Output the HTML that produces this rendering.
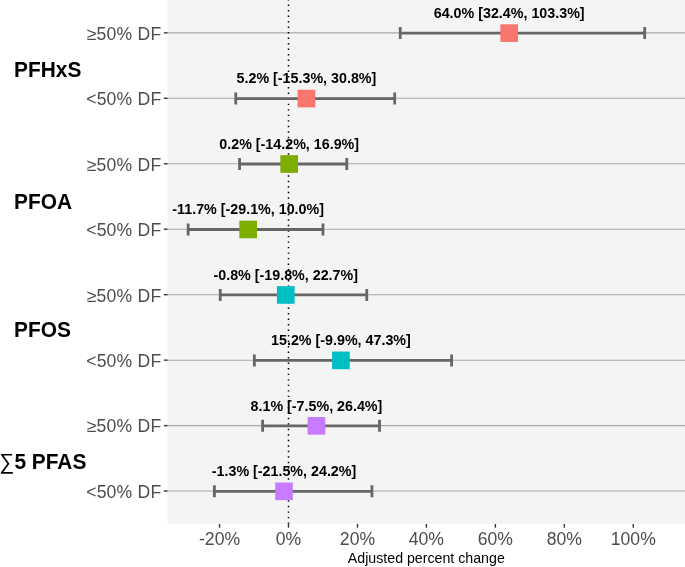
<!DOCTYPE html>
<html><head><meta charset="utf-8"><style>
html,body{margin:0;padding:0;background:#fff;width:685px;height:567px;overflow:hidden}
svg{display:block;will-change:transform;font-family:"Liberation Sans",sans-serif}
</style></head><body>
<svg width="685" height="567" viewBox="0 0 685 567">
<rect x="167.6" y="0" width="517.4" height="524.0" fill="#F4F4F4"/>
<line x1="167.6" y1="32.85" x2="685" y2="32.85" stroke="#A8A8A8" stroke-width="1.05"/>
<line x1="167.6" y1="98.31" x2="685" y2="98.31" stroke="#A8A8A8" stroke-width="1.05"/>
<line x1="167.6" y1="163.77" x2="685" y2="163.77" stroke="#A8A8A8" stroke-width="1.05"/>
<line x1="167.6" y1="229.23" x2="685" y2="229.23" stroke="#A8A8A8" stroke-width="1.05"/>
<line x1="167.6" y1="294.69" x2="685" y2="294.69" stroke="#A8A8A8" stroke-width="1.05"/>
<line x1="167.6" y1="360.15" x2="685" y2="360.15" stroke="#A8A8A8" stroke-width="1.05"/>
<line x1="167.6" y1="425.61" x2="685" y2="425.61" stroke="#A8A8A8" stroke-width="1.05"/>
<line x1="167.6" y1="491.07" x2="685" y2="491.07" stroke="#A8A8A8" stroke-width="1.05"/>
<line x1="288.50" y1="524.0" x2="288.50" y2="0" stroke="#000" stroke-width="1.5" stroke-dasharray="1.45 4.06" stroke-dashoffset="-0.15"/>
<path d="M400.22,33.10H644.68M400.22,27.10V39.10M644.68,27.10V39.10" stroke="#666666" stroke-width="2.8" fill="none"/>
<path d="M235.75,98.56H394.70M235.75,92.56V104.56M394.70,92.56V104.56" stroke="#666666" stroke-width="2.8" fill="none"/>
<path d="M239.54,164.02H346.77M239.54,158.02V170.02M346.77,158.02V170.02" stroke="#666666" stroke-width="2.8" fill="none"/>
<path d="M188.16,229.48H322.98M188.16,223.48V235.48M322.98,223.48V235.48" stroke="#666666" stroke-width="2.8" fill="none"/>
<path d="M220.23,294.94H366.77M220.23,288.94V300.94M366.77,288.94V300.94" stroke="#666666" stroke-width="2.8" fill="none"/>
<path d="M254.36,360.40H451.59M254.36,354.40V366.40M451.59,354.40V366.40" stroke="#666666" stroke-width="2.8" fill="none"/>
<path d="M262.64,425.86H379.53M262.64,419.86V431.86M379.53,419.86V431.86" stroke="#666666" stroke-width="2.8" fill="none"/>
<path d="M214.37,491.32H371.94M214.37,485.32V497.32M371.94,485.32V497.32" stroke="#666666" stroke-width="2.8" fill="none"/>
<rect x="500.35" y="24.28" width="17.65" height="17.65" fill="#F8766D"/>
<rect x="297.60" y="89.73" width="17.65" height="17.65" fill="#F8766D"/>
<rect x="280.36" y="155.19" width="17.65" height="17.65" fill="#7CAE00"/>
<rect x="239.33" y="220.66" width="17.65" height="17.65" fill="#7CAE00"/>
<rect x="276.92" y="286.12" width="17.65" height="17.65" fill="#00BFC4"/>
<rect x="332.08" y="351.57" width="17.65" height="17.65" fill="#00BFC4"/>
<rect x="307.60" y="417.04" width="17.65" height="17.65" fill="#C77CFF"/>
<rect x="275.19" y="482.50" width="17.65" height="17.65" fill="#C77CFF"/>
<text transform="translate(509.17,17.90) scale(1,1.03)" text-anchor="middle" font-weight="bold" font-size="14.3">64.0% [32.4%, 103.3%]</text>
<text transform="translate(306.43,83.36) scale(1,1.03)" text-anchor="middle" font-weight="bold" font-size="14.3">5.2% [-15.3%, 30.8%]</text>
<text transform="translate(289.19,148.82) scale(1,1.03)" text-anchor="middle" font-weight="bold" font-size="14.3">0.2% [-14.2%, 16.9%]</text>
<text transform="translate(248.16,214.28) scale(1,1.03)" text-anchor="middle" font-weight="bold" font-size="14.3">-11.7% [-29.1%, 10.0%]</text>
<text transform="translate(285.74,279.74) scale(1,1.03)" text-anchor="middle" font-weight="bold" font-size="14.3">-0.8% [-19.8%, 22.7%]</text>
<text transform="translate(340.91,345.20) scale(1,1.03)" text-anchor="middle" font-weight="bold" font-size="14.3">15.2% [-9.9%, 47.3%]</text>
<text transform="translate(316.43,410.66) scale(1,1.03)" text-anchor="middle" font-weight="bold" font-size="14.3">8.1% [-7.5%, 26.4%]</text>
<text transform="translate(284.02,476.12) scale(1,1.03)" text-anchor="middle" font-weight="bold" font-size="14.3">-1.3% [-21.5%, 24.2%]</text>
<line x1="163.90" y1="32.85" x2="167.6" y2="32.85" stroke="#333333" stroke-width="1.4"/>
<text x="161.4" y="39.70" text-anchor="end" letter-spacing="0.2" font-size="17.6" fill="#4D4D4D">≥50% DF</text>
<line x1="163.90" y1="98.31" x2="167.6" y2="98.31" stroke="#333333" stroke-width="1.4"/>
<text x="161.4" y="105.16" text-anchor="end" letter-spacing="0.2" font-size="17.6" fill="#4D4D4D">&lt;50% DF</text>
<line x1="163.90" y1="163.77" x2="167.6" y2="163.77" stroke="#333333" stroke-width="1.4"/>
<text x="161.4" y="170.62" text-anchor="end" letter-spacing="0.2" font-size="17.6" fill="#4D4D4D">≥50% DF</text>
<line x1="163.90" y1="229.23" x2="167.6" y2="229.23" stroke="#333333" stroke-width="1.4"/>
<text x="161.4" y="236.08" text-anchor="end" letter-spacing="0.2" font-size="17.6" fill="#4D4D4D">&lt;50% DF</text>
<line x1="163.90" y1="294.69" x2="167.6" y2="294.69" stroke="#333333" stroke-width="1.4"/>
<text x="161.4" y="301.54" text-anchor="end" letter-spacing="0.2" font-size="17.6" fill="#4D4D4D">≥50% DF</text>
<line x1="163.90" y1="360.15" x2="167.6" y2="360.15" stroke="#333333" stroke-width="1.4"/>
<text x="161.4" y="367.00" text-anchor="end" letter-spacing="0.2" font-size="17.6" fill="#4D4D4D">&lt;50% DF</text>
<line x1="163.90" y1="425.61" x2="167.6" y2="425.61" stroke="#333333" stroke-width="1.4"/>
<text x="161.4" y="432.46" text-anchor="end" letter-spacing="0.2" font-size="17.6" fill="#4D4D4D">≥50% DF</text>
<line x1="163.90" y1="491.07" x2="167.6" y2="491.07" stroke="#333333" stroke-width="1.4"/>
<text x="161.4" y="497.92" text-anchor="end" letter-spacing="0.2" font-size="17.6" fill="#4D4D4D">&lt;50% DF</text>
<line x1="219.54" y1="524.0" x2="219.54" y2="527.70" stroke="#333333" stroke-width="1.4"/>
<text x="219.54" y="544.5" text-anchor="middle" font-size="17.6" fill="#4D4D4D">-20%</text>
<line x1="288.50" y1="524.0" x2="288.50" y2="527.70" stroke="#333333" stroke-width="1.4"/>
<text x="288.50" y="544.5" text-anchor="middle" font-size="17.6" fill="#4D4D4D">0%</text>
<line x1="357.46" y1="524.0" x2="357.46" y2="527.70" stroke="#333333" stroke-width="1.4"/>
<text x="357.46" y="544.5" text-anchor="middle" font-size="17.6" fill="#4D4D4D">20%</text>
<line x1="426.42" y1="524.0" x2="426.42" y2="527.70" stroke="#333333" stroke-width="1.4"/>
<text x="426.42" y="544.5" text-anchor="middle" font-size="17.6" fill="#4D4D4D">40%</text>
<line x1="495.38" y1="524.0" x2="495.38" y2="527.70" stroke="#333333" stroke-width="1.4"/>
<text x="495.38" y="544.5" text-anchor="middle" font-size="17.6" fill="#4D4D4D">60%</text>
<line x1="564.34" y1="524.0" x2="564.34" y2="527.70" stroke="#333333" stroke-width="1.4"/>
<text x="564.34" y="544.5" text-anchor="middle" font-size="17.6" fill="#4D4D4D">80%</text>
<line x1="633.30" y1="524.0" x2="633.30" y2="527.70" stroke="#333333" stroke-width="1.4"/>
<text x="633.30" y="544.5" text-anchor="middle" font-size="17.6" fill="#4D4D4D">100%</text>
<text x="426.30" y="563.0" text-anchor="middle" font-size="14.2">Adjusted percent change</text>
<text transform="translate(14.0,77.0) scale(1,1.055)" font-size="20.9" font-weight="bold">PFHxS</text>
<text transform="translate(14.0,208.6) scale(1,1.055)" font-size="20.9" font-weight="bold">PFOA</text>
<text transform="translate(14.0,337.0) scale(1,1.055)" font-size="20.9" font-weight="bold">PFOS</text>
<text transform="translate(-0.5,469.0) scale(1,1.055)" font-size="20.9" font-weight="bold"><tspan font-weight="normal">∑</tspan>5 PFAS</text>
</svg>
</body></html>
